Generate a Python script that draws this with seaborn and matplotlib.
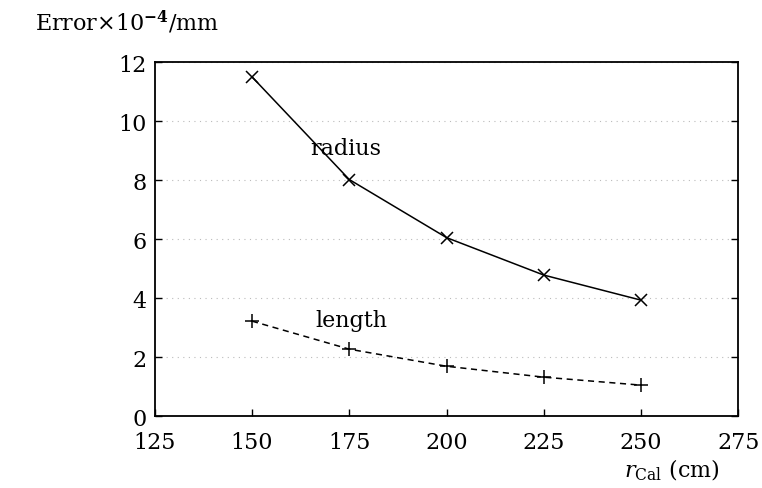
import matplotlib
matplotlib.use("Agg")
import matplotlib.pyplot as plt
import seaborn as sns
import pandas as pd

r_cal = [150, 175, 200, 225, 250]
radius_err = [11.5, 8.02, 6.05, 4.78, 3.93]
length_err = [3.22, 2.27, 1.69, 1.32, 1.05]
x_ticks = [125, 150, 175, 200, 225, 250, 275]
y_ticks = [0, 2, 4, 6, 8, 10, 12]

sns.set_theme(style="white")
plt.rcParams['font.family'] = ['DejaVu Serif']
plt.rcParams['mathtext.fontset'] = 'dejavuserif'
plt.rcParams['axes.formatter.use_mathtext'] = True
plt.rcParams['text.color'] = 'black'
plt.rcParams['xtick.color'] = 'black'
plt.rcParams['ytick.color'] = 'black'

df = pd.DataFrame({
    "r": r_cal * 2,
    "err": radius_err + length_err,
    "series": ["radius"] * 5 + ["length"] * 5,
})

fig = plt.figure(figsize=(7.62, 4.89), dpi=100)
ax = fig.add_axes([0.203, 0.147, 0.766, 0.724])

sns.lineplot(data=df[df.series == "radius"], x="r", y="err", ax=ax,
             color="black", linewidth=1.1, marker="x", markersize=8,
             markeredgewidth=1.1, markeredgecolor="black")
sns.lineplot(data=df[df.series == "length"], x="r", y="err", ax=ax,
             color="black", linewidth=1.1, linestyle=(0, (4, 3)), marker="+",
             markersize=10, markeredgewidth=1.1, markeredgecolor="black")

ax.set_xlim(125, 275)
ax.set_ylim(0, 12)
ax.set_xticks(x_ticks)
ax.set_yticks(y_ticks)
ax.set_xticklabels([str(t) for t in x_ticks], fontsize=16)
ax.set_yticklabels([str(t) for t in y_ticks], fontsize=16)
ax.grid(True, axis="y", color="#bbbbbb", linestyle=(0, (1, 4)), linewidth=0.8)
ax.tick_params(direction="in", length=5, width=1, color="black", labelcolor="black",
               top=False, right=True, bottom=True, left=True)
ax.tick_params(axis="x", pad=11)
ax.tick_params(axis="y", pad=6)
for s in ax.spines.values():
    s.set_color("black")
    s.set_linewidth(1.3)
ax.set_xlabel("")
ax.set_ylabel("")

ax.text(174, 9.1, "radius", fontsize=16, ha="center", va="center", color="black")
ax.text(175.5, 3.25, "length", fontsize=16, ha="center", va="center", color="black")

fig.text(0.046, 0.955, r"Error$\times$10$^{\mathbf{-4}}$/mm", fontsize=16,
         ha="left", va="center", color="black")
fig.text(0.945, 0.012, r"$r_{\mathrm{Cal}}$ (cm)", fontsize=16,
         ha="right", va="bottom", color="black")

fig.savefig("out.png", dpi=100)
